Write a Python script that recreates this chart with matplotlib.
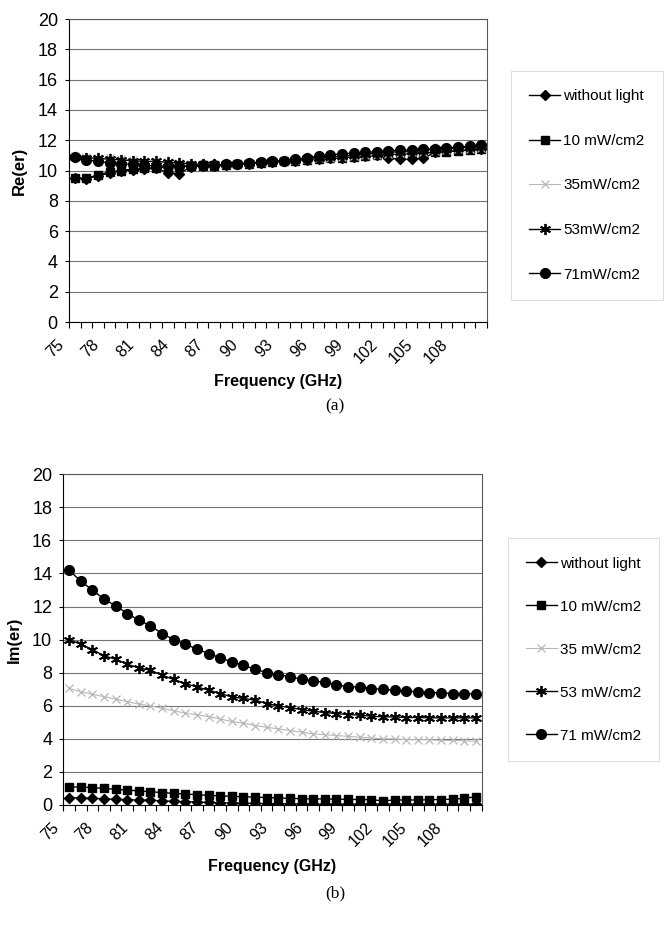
import matplotlib
matplotlib.use("Agg")
import matplotlib.pyplot as plt
import matplotlib.transforms as mtransforms
import numpy as np

plt.rcParams['font.family'] = ['Liberation Sans', 'DejaVu Sans']

freq = list(range(75, 111))
freq_labels = [str(f) for f in freq[::3]]
names = ["without light", "10 mW/cm2", "35mW/cm2", "53mW/cm2", "71mW/cm2"]
names_b = ["without light", "10 mW/cm2", "35 mW/cm2", "53 mW/cm2", "71 mW/cm2"]

# (a) real part
re_0 = [9.5, 9.45, 9.65, 9.85, 10.0, 10.05, 10.1, 10.15, 9.85, 9.8, 10.25, 10.3,
        10.3, 10.35, 10.4, 10.45, 10.5, 10.55, 10.6, 10.65, 10.7, 10.75, 10.8, 10.85,
        10.9, 10.95, 11.0, 10.8, 10.75, 10.75, 10.8, 11.2, 11.3, 11.35, 11.4, 11.45]
re_10 = [9.5, 9.5, 9.7, 9.9, 10.0, 10.1, 10.15, 10.2, 10.2, 10.25, 10.3, 10.3,
         10.3, 10.35, 10.4, 10.45, 10.5, 10.55, 10.6, 10.65, 10.7, 10.75, 10.8, 10.85,
         10.9, 10.95, 11.0, 11.05, 11.1, 11.1, 11.15, 11.2, 11.25, 11.3, 11.35, 11.4]
re_35 = [10.95, 10.9, 10.85, 10.8, 10.75, 10.7, 10.65, 10.6, 10.55, 10.5, 10.45, 10.4,
         10.4, 10.4, 10.45, 10.5, 10.55, 10.6, 10.65, 10.7, 10.75, 10.8, 10.85, 10.9,
         10.95, 11.0, 11.05, 11.1, 11.15, 11.2, 11.25, 11.3, 11.35, 11.4, 11.45, 11.5]
re_53 = [10.9, 10.85, 10.8, 10.75, 10.7, 10.65, 10.6, 10.6, 10.55, 10.5, 10.45, 10.4,
         10.4, 10.4, 10.45, 10.5, 10.55, 10.6, 10.65, 10.7, 10.8, 10.85, 10.9, 10.95,
         11.0, 11.1, 11.15, 11.2, 11.25, 11.3, 11.35, 11.4, 11.45, 11.5, 11.55, 11.6]
re_71 = [10.9, 10.7, 10.6, 10.5, 10.45, 10.4, 10.35, 10.3, 10.3, 10.3, 10.3, 10.35,
         10.35, 10.4, 10.45, 10.5, 10.55, 10.6, 10.65, 10.75, 10.85, 10.95, 11.05, 11.1,
         11.15, 11.2, 11.25, 11.3, 11.35, 11.35, 11.4, 11.45, 11.5, 11.55, 11.6, 11.7]

# (b) imaginary part
im_0 = [0.45, 0.42, 0.4, 0.37, 0.34, 0.32, 0.3, 0.28, 0.25, 0.22, 0.2, 0.18,
        0.15, 0.13, 0.12, 0.1, 0.1, 0.08, 0.08, 0.07, 0.06, 0.05, 0.05, 0.05,
        0.05, 0.05, 0.05, 0.05, 0.05, 0.05, 0.05, 0.05, 0.05, 0.05, 0.05, 0.05]
im_10 = [1.1, 1.08, 1.05, 1.0, 0.95, 0.9, 0.85, 0.8, 0.75, 0.7, 0.66, 0.62,
         0.58, 0.55, 0.52, 0.5, 0.47, 0.45, 0.42, 0.4, 0.38, 0.37, 0.36, 0.35,
         0.34, 0.33, 0.32, 0.25, 0.3, 0.3, 0.3, 0.32, 0.33, 0.35, 0.4, 0.5]
im_35 = [7.05, 6.85, 6.7, 6.55, 6.4, 6.25, 6.1, 6.0, 5.85, 5.7, 5.55, 5.45,
         5.35, 5.2, 5.05, 4.95, 4.8, 4.7, 4.6, 4.5, 4.4, 4.3, 4.25, 4.2,
         4.15, 4.1, 4.05, 4.0, 4.0, 3.95, 3.95, 3.95, 3.9, 3.9, 3.88, 3.85]
im_53 = [10.0, 9.73, 9.4, 9.02, 8.82, 8.51, 8.29, 8.15, 7.85, 7.59, 7.34, 7.14,
         6.94, 6.74, 6.54, 6.44, 6.34, 6.13, 5.99, 5.89, 5.77, 5.67, 5.59, 5.53,
         5.47, 5.43, 5.37, 5.33, 5.33, 5.29, 5.29, 5.27, 5.27, 5.27, 5.27, 5.27]
im_71 = [14.2, 13.54, 13.0, 12.45, 12.05, 11.58, 11.18, 10.83, 10.37, 10.0, 9.73, 9.42,
         9.16, 8.9, 8.66, 8.45, 8.21, 8.01, 7.89, 7.75, 7.61, 7.51, 7.41, 7.28,
         7.14, 7.14, 7.04, 7.0, 6.94, 6.9, 6.84, 6.8, 6.78, 6.74, 6.74, 6.7]

styles = [
    dict(color="black", marker="D", markersize=5.5, lw=1.0),
    dict(color="black", marker="s", markersize=6, lw=1.0),
    dict(color="0.72", marker="x", markersize=6, lw=0.8, markeredgewidth=0.9),
    dict(color="black", marker=(6, 2, 0), markersize=8, lw=1.0, markeredgewidth=1.3),
    dict(color="black", marker="o", markersize=7, lw=1.0),
]


def setup(ax, ylabel, ylab_x, xlab_y):
    ax.set_xlim(74.5, 110.5)
    ax.set_ylim(0, 20)
    ax.set_yticks(range(0, 21, 2))
    ax.yaxis.grid(True, color="0.45", lw=0.8)
    ax.set_axisbelow(True)
    ax.set_xticks(freq[::3])
    ax.set_xticklabels(freq_labels, rotation=45, ha="right", va="center",
                       rotation_mode="anchor", fontsize=11.5)
    ax.set_xticks(np.arange(74.5, 111, 1), minor=True)
    ax.tick_params(axis="x", which="major", length=0, pad=0)
    ax.tick_params(axis="x", which="minor", length=4, width=0.8)
    ax.tick_params(axis="y", labelsize=13, length=3, pad=5)
    # push rotated labels down and left like the original
    shift = mtransforms.ScaledTranslation(-0.13, -0.20, fig.dpi_scale_trans)
    for lab in ax.get_xticklabels():
        lab.set_transform(lab.get_transform() + shift)
    for s in ["top", "right"]:
        ax.spines[s].set_color("0.35")
    ax.set_ylabel(ylabel, fontsize=12, fontweight="bold")
    ax.yaxis.set_label_coords(ylab_x, 0.5)
    ax.set_xlabel("Frequency (GHz)", fontsize=11.5, fontweight="bold")
    ax.xaxis.set_label_coords(0.5, xlab_y)


fig = plt.figure(figsize=(6.69, 9.32), dpi=100)

ax1 = fig.add_axes([0.1031, 0.6545, 0.625, 0.325])
for y, st, nm in zip([re_0, re_10, re_35, re_53, re_71], styles, names):
    ax1.plot(freq, y, label=nm, **st)
setup(ax1, "Re(er)", -0.10, -0.172)
leg1 = ax1.legend(loc="center left", bbox_to_anchor=(0.7525, 0.801),
                  bbox_transform=fig.transFigure, fontsize=11, frameon=True,
                  fancybox=False, labelspacing=2.0, handlelength=2.0,
                  handletextpad=0.2, borderpad=1.2)
leg1.get_frame().set_edgecolor("0.8")
leg1.get_frame().set_linewidth(0.6)

ax2 = fig.add_axes([0.0946, 0.1363, 0.6254, 0.3548])
for y, st, nm in zip([im_0, im_10, im_35, im_53, im_71], styles, names_b):
    ax2.plot(freq, y, label=nm, **st)
setup(ax2, "Im(er)", -0.099, -0.163)
leg2 = ax2.legend(loc="center left", bbox_to_anchor=(0.7475, 0.3028),
                  bbox_transform=fig.transFigure, fontsize=11, frameon=True,
                  fancybox=False, labelspacing=1.9, handlelength=2.0,
                  handletextpad=0.2, borderpad=1.2)
leg2.get_frame().set_edgecolor("0.8")
leg2.get_frame().set_linewidth(0.6)

fig.text(335 / 669, 1 - 406 / 932, "(a)", family="Liberation Serif",
         fontsize=12.5, ha="center", va="center")
fig.text(335 / 669, 1 - 893 / 932, "(b)", family="Liberation Serif",
         fontsize=12.5, ha="center", va="center")

fig.savefig("out.png", dpi=100)
